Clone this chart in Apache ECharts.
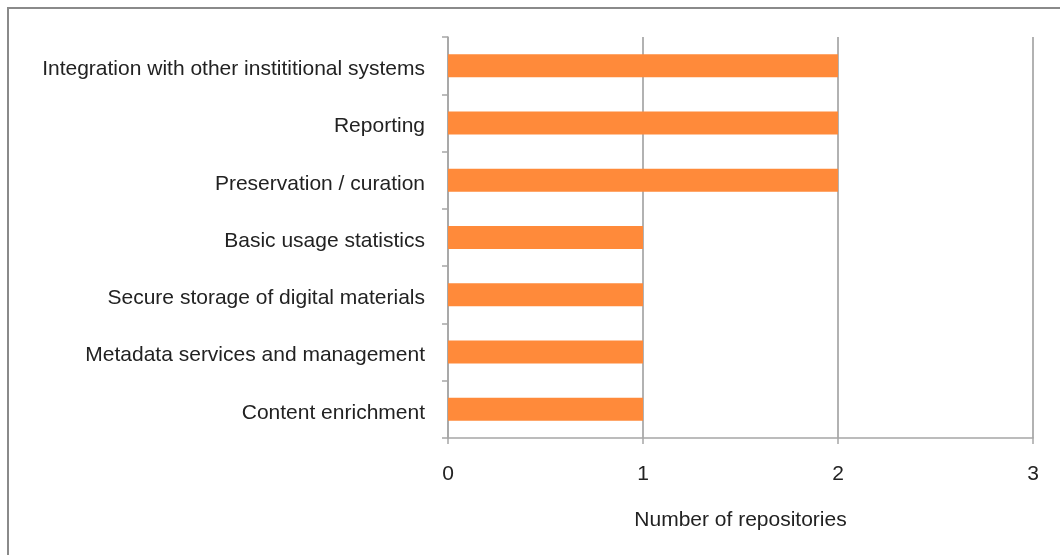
<!DOCTYPE html>
<html><head><meta charset="utf-8">
<script src="https://cdn.jsdelivr.net/npm/echarts@6/dist/echarts.min.js"></script>
<style>html,body{margin:0;padding:0;background:#fff}#c{width:1060px;height:555px}</style>
</head><body><div id="c"></div>
<script>
const categories = ["Content enrichment","Metadata services and management","Secure storage of digital materials","Basic usage statistics","Preservation / curation","Reporting","Integration with other instititional systems"];
const values = [1,1,1,1,2,2,2];
const xTicks = [0,1,2,3];
const axisName = "Number of repositories";

const FONT = 'Liberation Sans, Arial, sans-serif';
const chart = echarts.init(document.getElementById('c'), null, {renderer:'canvas'});
chart.setOption({
  animation:false,
  backgroundColor:'#fff',
  graphic:[{type:'rect',shape:{x:8,y:8,width:1070,height:570},style:{fill:'none',stroke:'#8a8a8a',lineWidth:2},silent:true}],
  grid:{left:448,right:27,top:37,bottom:117,containLabel:false},
  xAxis:{type:'value',min:0,max:3,interval:1,
    name:axisName,nameLocation:'middle',nameGap:72,
    nameTextStyle:{fontFamily:FONT,fontSize:21,color:'#222'},
    axisLine:{show:true,lineStyle:{color:'#a6a6a6',width:1.5}},
    axisTick:{show:true,length:6,lineStyle:{color:'#a6a6a6',width:1.5}},
    axisLabel:{margin:26,fontFamily:FONT,fontSize:21,color:'#222',formatter:v=>xTicks.includes(v)?String(v):''},
    splitLine:{show:true,lineStyle:{color:'#999',width:1.5}}},
  yAxis:{type:'category',data:categories,
    axisLine:{show:true,lineStyle:{color:'#a6a6a6',width:1.5}},
    axisTick:{show:true,length:6,lineStyle:{color:'#a6a6a6',width:1.5}},
    axisLabel:{margin:23,formatter:v=>'{a|'+v+'}',
      rich:{a:{fontFamily:FONT,fontSize:21,color:'#222',padding:[7,0,0,0]}}}},
  series:[{type:'bar',data:values,barWidth:23,itemStyle:{color:'#ff8a3a'}}]
});
</script></body></html>
